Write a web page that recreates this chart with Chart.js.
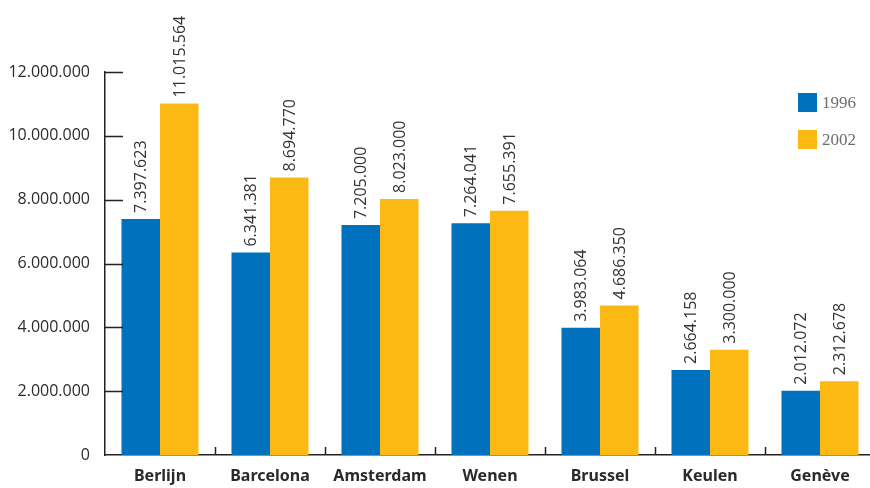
<!DOCTYPE html>
<html>
<head>
<meta charset="utf-8">
<script src="https://cdn.jsdelivr.net/npm/chart.js@4"></script>
<style>
  html, body { margin: 0; padding: 0; background: #fff; }
  body { width: 870px; height: 488px; overflow: hidden; position: relative; }
  #wrap { position: absolute; left: 0; top: 0; width: 880px; height: 488px; }
  #legend { position: absolute; left: 798px; top: 93px; font-family: "Liberation Serif", serif; font-size: 17px; color: #6d6d6d; }
  #legend div { height: 19px; line-height: 19px; margin-bottom: 18px; white-space: nowrap; }
  #legend span { display: inline-block; width: 19px; height: 19px; vertical-align: top; margin-right: 5px; }
</style>
</head>
<body>
<div id="wrap"><canvas id="barChart" width="880" height="488"></canvas></div>
<div id="legend"></div>
<script>
// steden en bezoekers
const cities = ['Berlijn', 'Barcelona', 'Amsterdam', 'Wenen', 'Brussel', 'Keulen', 'Genève'];
const years = ['1996', '2002'];
const values1996 = [7397623, 6341381, 7205000, 7264041, 3983064, 2664158, 2012072];
const values2002 = [11015564, 8694770, 8023000, 7655391, 4686350, 3300000, 2312678];
const yTicks = [0, 2000000, 4000000, 6000000, 8000000, 10000000, 12000000];
const colors = ['#0071bc', '#fdb913'];

function formatNumber(n) {
    return n.toString().replace(/\B(?=(\d{3})+(?!\d))/g, '.');
}

// tekent de waarden boven de staven, verticaal
const valueLabels = {
    id: 'valueLabels',
    afterDatasetsDraw(chart) {
        let ctx = chart.ctx;
        ctx.save();
        ctx.font = '16px "Open Sans"';
        ctx.fillStyle = '#333';
        ctx.textAlign = 'left';
        ctx.textBaseline = 'middle';
        chart.data.datasets.forEach((ds, d) => {
            chart.getDatasetMeta(d).data.forEach((bar, i) => {
                ctx.save();
                ctx.translate(bar.x, bar.y - 6);
                ctx.rotate(-Math.PI / 2);
                ctx.fillText(formatNumber(ds.data[i]), 0, 1);
                ctx.restore();
            });
        });
        ctx.restore();
    }
};

// streepjes op de assen (naar binnen)
const axisMarks = {
    id: 'axisMarks',
    afterDraw(chart) {
        let ctx = chart.ctx;
        let x = chart.scales.x;
        let y = chart.scales.y;
        ctx.save();
        ctx.strokeStyle = '#222';
        ctx.lineWidth = 1.5;
        ctx.beginPath();
        for (const v of yTicks) {
            if (v === 0) continue;
            let py = Math.round(y.getPixelForValue(v)) + 0.5;
            ctx.moveTo(x.left, py);
            ctx.lineTo(x.left + 18, py);
        }
        for (let i = 0; i < cities.length - 1; i++) {
            let px = Math.round((x.getPixelForTick(i) + x.getPixelForTick(i + 1)) / 2) + 0.5;
            ctx.moveTo(px, y.bottom);
            ctx.lineTo(px, y.bottom - 8);
        }
        ctx.stroke();
        ctx.restore();
    }
};

let ctx = document.getElementById('barChart').getContext('2d');
let chart = new Chart(ctx, {
    type: 'bar',
    data: {
        labels: cities,
        datasets: [{
            label: years[0],
            data: values1996,
            backgroundColor: colors[0],
            categoryPercentage: 0.7,
            barPercentage: 1.0
        }, {
            label: years[1],
            data: values2002,
            backgroundColor: colors[1],
            categoryPercentage: 0.7,
            barPercentage: 1.0
        }]
    },
    options: {
        responsive: false,
        animation: false,
        layout: { padding: { top: 72, right: 5, left: 0, bottom: 0 } },
        plugins: {
            legend: { display: false },
            tooltip: { enabled: false }
        },
        scales: {
            x: {
                grid: { display: false, drawTicks: false },
                border: { display: true, color: '#222', width: 1.5 },
                ticks: {
                    padding: 12,
                    color: '#2a2a2a',
                    font: { family: '"Noto Sans"', size: 16, weight: 'bold' }
                },
                afterFit(scale) { scale.height = 33; }
            },
            y: {
                min: 0,
                max: 12000000,
                afterBuildTicks(scale) { scale.ticks = yTicks.map(v => ({ value: v })); },
                grid: { display: false, drawTicks: false },
                border: { display: true, color: '#222', width: 1.5 },
                ticks: {
                    padding: 15,
                    color: '#2a2a2a',
                    font: { family: '"Open Sans"', size: 16 },
                    callback: v => formatNumber(v)
                },
                afterFit(scale) { scale.width = 105; }
            }
        }
    },
    plugins: [valueLabels, axisMarks]
});

// legenda
let legend = document.getElementById('legend');
chart.data.datasets.forEach(ds => {
    let row = document.createElement('div');
    row.innerHTML = '<span style="background:' + ds.backgroundColor + '"></span>' + ds.label;
    legend.appendChild(row);
});
</script>
</body>
</html>
